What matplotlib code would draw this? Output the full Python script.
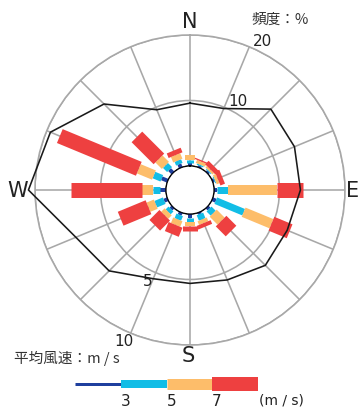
import numpy as np
import matplotlib
matplotlib.use('Agg')
import matplotlib.pyplot as plt

# 16 directions, clockwise from north
directions = ['N', 'NNE', 'NE', 'ENE', 'E', 'ESE', 'SE', 'SSE',
              'S', 'SSW', 'SW', 'WSW', 'W', 'WNW', 'NW', 'NNW']

# frequency (%) per speed class
freq_lt3 = [0.45, 0.3, 0.3, 0.3, 0.45, 0.6, 0.45, 0.3,
            0.6, 0.45, 0.45, 0.6, 0.9, 1.0, 0.75, 0.6]
freq_3_5 = [0.45, 0.2, 0.15, 0.15, 1.7, 4.6, 0.9, 0.9,
            0.6, 0.75, 0.6, 1.4, 1.1, 1.3, 0.9, 0.6]
freq_5_7 = [0.75, 0.5, 0.3, 0.45, 7.5, 4.6, 1.7, 0.6,
            0.6, 0.9, 0.75, 1.2, 1.7, 2.5, 1.4, 0.9]
freq_ge7 = [0.0, 0.2, 0.75, 0.75, 4.0, 3.0, 2.15, 0.6,
            0.8, 1.5, 2.15, 4.6, 10.8, 13.05, 4.75, 0.75]

# mean wind speed (m/s)
mean_speed = [4.8, 4.9, 6.9, 6.8, 6.6, 6.2, 6.3, 5.6,
              5.3, 5.5, 6.9, 7.6, 10.5, 9.7, 7.45, 4.8]

speed_classes = ['3', '5', '7']

c_dark = '#1f3f9e'
c_light = '#12bde6'
c_orange = '#fdbd6a'
c_red = '#ee4040'
c_grid = '#a8a8a8'

PX = 0.72  # points per pixel at dpi 100
SPEED_TO_PCT = 2.0  # 5 m/s sits on the 10 % ring

fig = plt.figure(figsize=(3.61, 4.09), dpi=100)
ax = fig.add_axes([35 / 361, (409 - 345) / 409, 310 / 361, 310 / 409], projection='polar')
ax.set_theta_zero_location('N')
ax.set_theta_direction(-1)
ax.set_ylim(0, 20)
ax.set_rorigin(-3.66)

theta = np.deg2rad(np.arange(16) * 22.5)
ax.set_xticks(theta)
ax.set_xticklabels([])
ax.set_yticks([10, 20])
ax.set_yticklabels([])
ax.grid(True, color=c_grid, lw=1.6 * PX)
ax.spines['polar'].set_color(c_grid)
ax.spines['polar'].set_linewidth(1.6 * PX)
try:
    ax.spines['inner'].set_visible(False)
except KeyError:
    pass

bands = [(freq_lt3, c_dark, 4), (freq_3_5, c_light, 7),
         (freq_5_7, c_orange, 10), (freq_ge7, c_red, 15)]
for i, th in enumerate(theta):
    start = 0
    for vals, col, w in bands:
        v = vals[i]
        if v > 0:
            ax.plot([th, th], [start, start + v], color=col, lw=w * PX,
                    solid_capstyle='butt', zorder=3)
        start += v

# hole edge
circ = np.linspace(0, 2 * np.pi, 361)
ax.plot(circ, np.zeros_like(circ), color='black', lw=1.5 * PX, zorder=4)

# mean speed polygon
th_c = np.append(theta, theta[0])
sp_c = np.append(mean_speed, mean_speed[0]) * SPEED_TO_PCT
ax.plot(th_c, sp_c, color='#1a1a1a', lw=1.6 * PX, zorder=5, clip_on=False)

# overlay in pixel coordinates for labels and legend
ov = fig.add_axes([0, 0, 1, 1])
ov.set_xlim(0, 361)
ov.set_ylim(409, 0)
ov.axis('off')
ov.patch.set_alpha(0)

cjk = ['Noto Sans CJK JP', 'DejaVu Sans']
ov.text(190, 22, 'N', ha='center', va='center', fontsize=15, color='#222')
ov.text(353, 191, 'E', ha='center', va='center', fontsize=15, color='#222')
ov.text(188, 356, 'S', ha='center', va='center', fontsize=15, color='#222')
ov.text(18, 191, 'W', ha='center', va='center', fontsize=15, color='#222')
ov.text(280, 20, '頻度：%', ha='center', va='center', fontsize=10.5, family=cjk, color='#333')
ov.text(262, 41, '20', ha='center', va='center', fontsize=11, color='#222')
ov.text(238, 102, '10', ha='center', va='center', fontsize=11, color='#222')
ov.text(148, 281, '5', ha='center', va='center', fontsize=11, color='#222')
ov.text(124, 341, '10', ha='center', va='center', fontsize=11, color='#222')
ov.text(14, 358, '平均風速：m / s', ha='left', va='center', fontsize=10.5, family=cjk, color='#333')

# legend bar
edges = [75, 121, 167, 212, 258]
leg_cols = [c_dark, c_light, c_orange, c_red]
leg_w = [3, 8, 11, 14]
for k in range(4):
    ov.plot([edges[k], edges[k + 1]], [384, 384], color=leg_cols[k],
            lw=leg_w[k] * PX, solid_capstyle='butt')
for k, lab in enumerate(speed_classes):
    ov.text(edges[k + 1] + 5, 401, lab, ha='center', va='center', fontsize=11, color='#222')
ov.text(281, 401, '(m / s)', ha='center', va='center', fontsize=10, color='#222')

fig.savefig('out.png', dpi=100)
